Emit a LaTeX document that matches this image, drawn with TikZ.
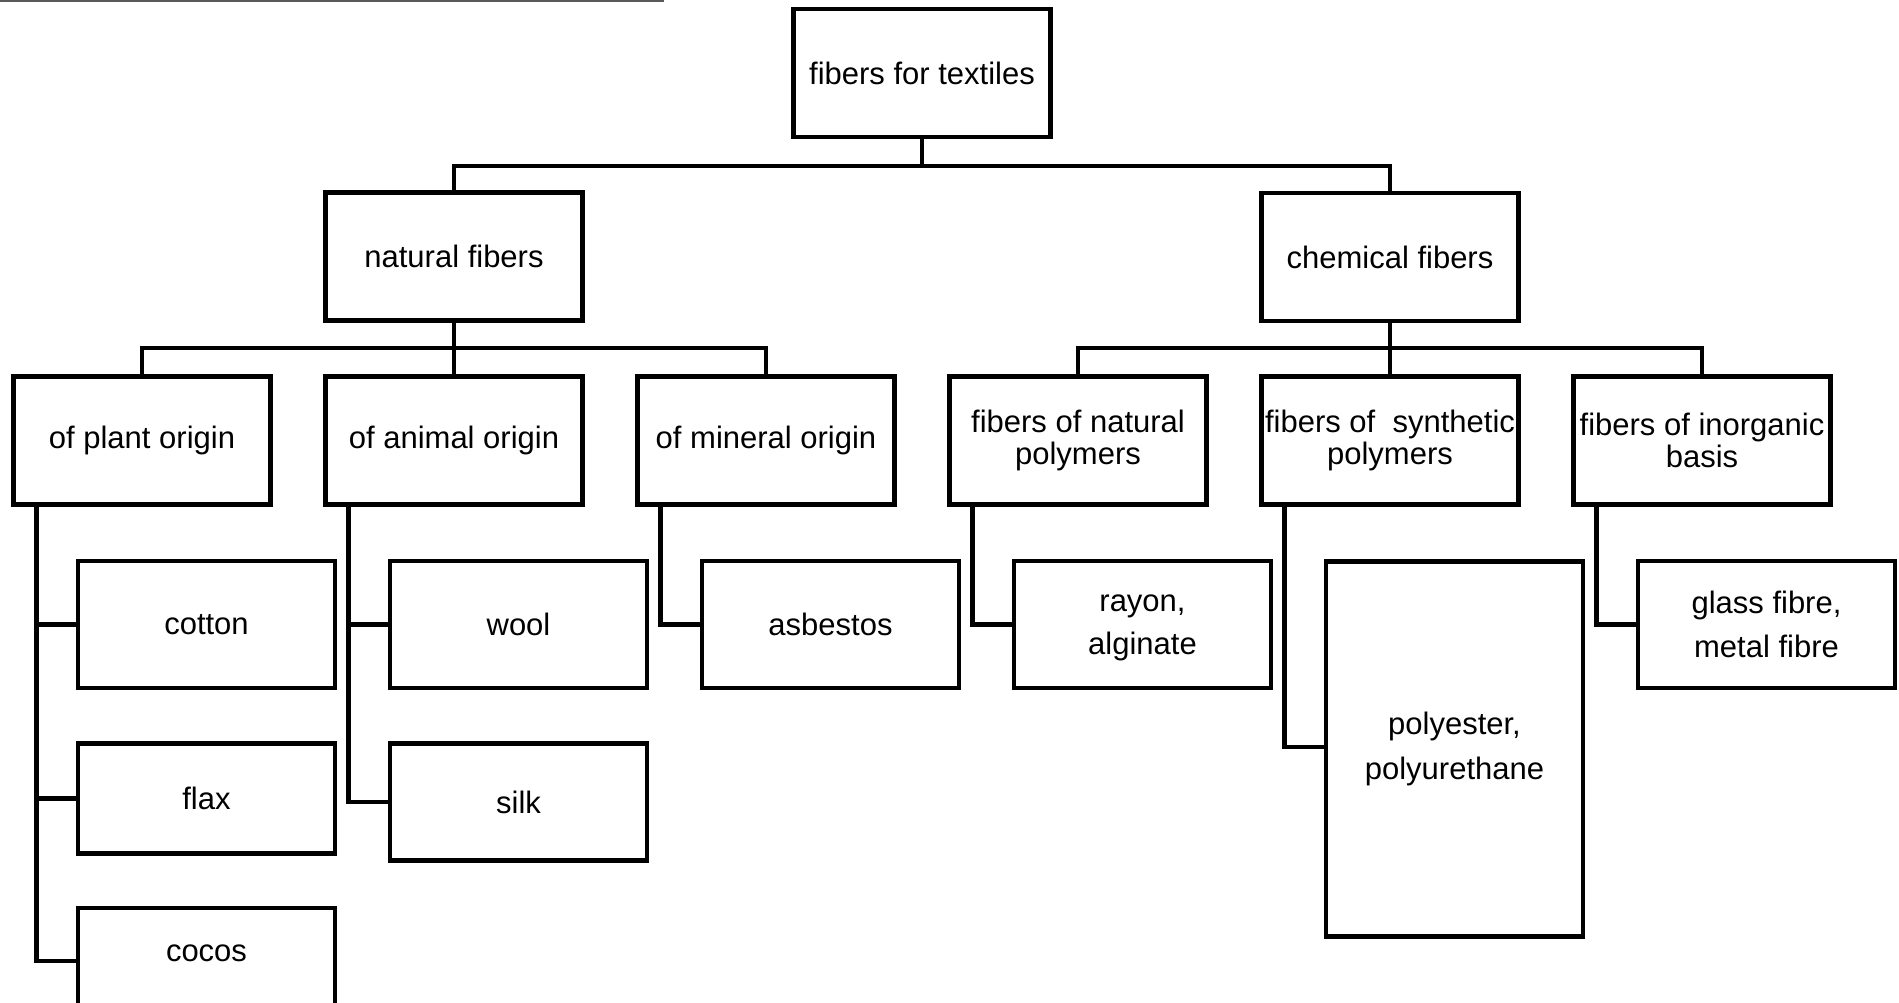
\documentclass[tikz,border=0pt]{standalone}
\usepackage{fontspec}
\setmainfont{Liberation Sans}
\begin{document}
\begin{tikzpicture}[x=1pt,y=-1pt,
  box/.style={draw, line width=4.8pt, minimum width=257pt, inner sep=0pt, align=center,
    font=\fontsize{31}{32}\selectfont},
  leaf/.style={box, font=\fontsize{31}{44}\selectfont},
  conn/.style={line width=4.8pt}]
\useasboundingbox (0,0) rectangle (1899,1002);
\draw[black!65, line width=1.8pt] (0,0.9) -- (664,0.9);
% top levels
\node[box, minimum height=128pt] (top) at (922,73) {fibers for textiles};
\node[box, minimum height=128pt] (nat) at (454,256.5) {natural fibers};
\node[box, minimum height=128pt] (chem) at (1390,257) {chemical fibers};
% level 3
\node[box, minimum height=128pt] (plant) at (142,440.5) {of plant origin};
\node[box, minimum height=128pt] (animal) at (454,440.5) {of animal origin};
\node[box, minimum height=128pt] (mineral) at (766,440.5) {of mineral origin};
\node[box, minimum height=128pt] (natpoly) at (1078,440.5) {fibers of natural\\polymers};
\node[box, minimum height=128pt] (synth) at (1390,440.5) {fibers of\ \ synthetic\\polymers};
\node[box, minimum height=128pt] (inorg) at (1702,440.5) {fibers of inorganic\\basis};
% leaves
\node[leaf, minimum height=127pt] (cotton) at (206.5,624.5) {cotton};
\node[leaf, minimum height=110pt] (flax) at (206.5,798.5) {flax};
\node[leaf, minimum height=106pt] (cocos) at (206.5,961) {\raisebox{0pt}[0pt][0pt]{cocos}};
\node[leaf, minimum height=127pt] (wool) at (518.5,624.5) {wool};
\node[leaf, minimum height=117pt] (silk) at (518.5,802) {silk};
\node[leaf, minimum height=127pt] (asbestos) at (830.5,624.5) {asbestos};
\node[leaf, minimum height=127pt, font=\fontsize{31}{43}\selectfont] (rayon) at (1142.5,624.5) {\vphantom{l}rayon,\\alginate};
\node[leaf, minimum height=375pt, font=\fontsize{31}{45}\selectfont] (poly) at (1454.5,749) {polyester,\\polyurethane};
\node[leaf, minimum height=127pt] (glass) at (1766.5,624.5) {glass fibre,\\metal fibre};
% buses
\coordinate (bt) at (922,166);
\coordinate (bn) at (454,348);
\coordinate (bc) at (1390,348);
\draw[conn] (top.south) -- (bt);
\draw[conn] (nat.north) |- (bt) -| (chem.north);
\draw[conn] (nat.south) -- (animal.north);
\draw[conn] (plant.north) |- (bn) -| (mineral.north);
\draw[conn] (chem.south) -- (synth.north);
\draw[conn] (natpoly.north) |- (bc) -| (inorg.north);
% drop lines
\draw[conn] ([xshift=25pt]plant.south west) |- (cocos.west);
\draw[conn] ([xshift=25pt]plant.south west) |- (cotton.west);
\draw[conn] ([xshift=25pt]plant.south west) |- (flax.west);
\draw[conn] ([xshift=25pt]animal.south west) |- (silk.west);
\draw[conn] ([xshift=25pt]animal.south west) |- (wool.west);
\draw[conn] ([xshift=25pt]mineral.south west) |- (asbestos.west);
\draw[conn] ([xshift=25pt]natpoly.south west) |- (rayon.west);
\draw[conn] ([xshift=25pt]synth.south west) |- ([yshift=2pt]poly.west);
\draw[conn] ([xshift=25pt]inorg.south west) |- (glass.west);
\end{tikzpicture}
\end{document}
